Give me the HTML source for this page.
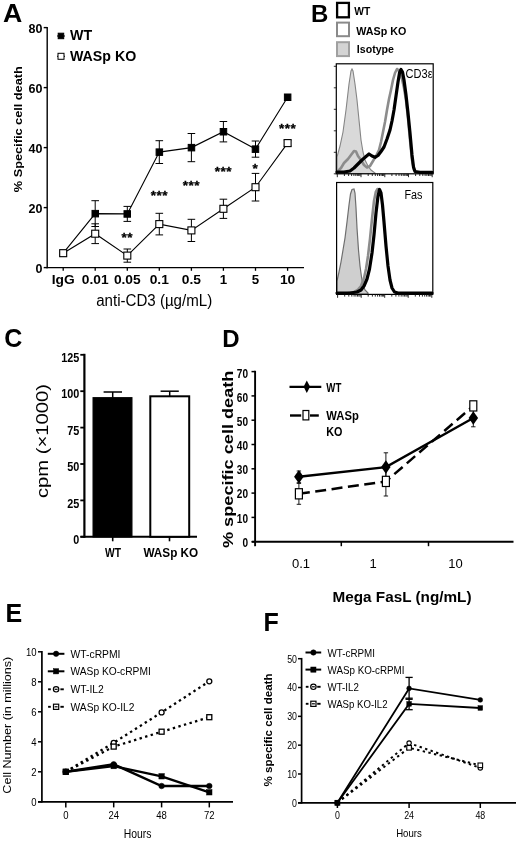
<!DOCTYPE html>
<html lang="en"><head><meta charset="utf-8"><title>Figure</title>
<style>html,body{margin:0;padding:0;background:#fff}svg{display:block}text{font-family:"Liberation Sans",sans-serif}</style>
</head><body>
<svg width="520" height="842" viewBox="0 0 520 842">
<rect width="520" height="842" fill="#fff"/>
<g id="panelA">
<text x="2.9" y="21.7" font-size="25" font-weight="bold" textLength="19.3" lengthAdjust="spacingAndGlyphs">A</text>
<line x1="47.2" y1="27" x2="47.2" y2="268.3" stroke="#000" stroke-width="1.4"/>
<line x1="46.5" y1="267.6" x2="304" y2="267.6" stroke="#000" stroke-width="1.4"/>
<line x1="43.7" y1="267.6" x2="47.2" y2="267.6" stroke="#000" stroke-width="1.4"/>
<text x="42.5" y="272.5" font-size="12.5" font-weight="bold" text-anchor="end">0</text>
<line x1="43.7" y1="207.60000000000002" x2="47.2" y2="207.60000000000002" stroke="#000" stroke-width="1.4"/>
<text x="42.5" y="212.50000000000003" font-size="12.5" font-weight="bold" text-anchor="end">20</text>
<line x1="43.7" y1="147.60000000000002" x2="47.2" y2="147.60000000000002" stroke="#000" stroke-width="1.4"/>
<text x="42.5" y="152.50000000000003" font-size="12.5" font-weight="bold" text-anchor="end">40</text>
<line x1="43.7" y1="87.60000000000002" x2="47.2" y2="87.60000000000002" stroke="#000" stroke-width="1.4"/>
<text x="42.5" y="92.50000000000003" font-size="12.5" font-weight="bold" text-anchor="end">60</text>
<line x1="43.7" y1="27.600000000000023" x2="47.2" y2="27.600000000000023" stroke="#000" stroke-width="1.4"/>
<text x="42.5" y="32.50000000000002" font-size="12.5" font-weight="bold" text-anchor="end">80</text>
<line x1="63.2" y1="267.6" x2="63.2" y2="270.8" stroke="#000" stroke-width="1.3"/>
<text x="63.2" y="284.4" font-size="13.3" font-weight="bold" text-anchor="middle" textLength="23.0" lengthAdjust="spacingAndGlyphs">IgG</text>
<line x1="95.2" y1="267.6" x2="95.2" y2="270.8" stroke="#000" stroke-width="1.3"/>
<text x="95.2" y="284.4" font-size="13.3" font-weight="bold" text-anchor="middle" textLength="26.8" lengthAdjust="spacingAndGlyphs">0.01</text>
<line x1="127.3" y1="267.6" x2="127.3" y2="270.8" stroke="#000" stroke-width="1.3"/>
<text x="127.3" y="284.4" font-size="13.3" font-weight="bold" text-anchor="middle" textLength="26.8" lengthAdjust="spacingAndGlyphs">0.05</text>
<line x1="159.3" y1="267.6" x2="159.3" y2="270.8" stroke="#000" stroke-width="1.3"/>
<text x="159.3" y="284.4" font-size="13.3" font-weight="bold" text-anchor="middle" textLength="19.2" lengthAdjust="spacingAndGlyphs">0.1</text>
<line x1="191.4" y1="267.6" x2="191.4" y2="270.8" stroke="#000" stroke-width="1.3"/>
<text x="191.4" y="284.4" font-size="13.3" font-weight="bold" text-anchor="middle" textLength="19.2" lengthAdjust="spacingAndGlyphs">0.5</text>
<line x1="223.4" y1="267.6" x2="223.4" y2="270.8" stroke="#000" stroke-width="1.3"/>
<text x="223.4" y="284.4" font-size="13.3" font-weight="bold" text-anchor="middle">1</text>
<line x1="255.5" y1="267.6" x2="255.5" y2="270.8" stroke="#000" stroke-width="1.3"/>
<text x="255.5" y="284.4" font-size="13.3" font-weight="bold" text-anchor="middle">5</text>
<line x1="287.6" y1="267.6" x2="287.6" y2="270.8" stroke="#000" stroke-width="1.3"/>
<text x="287.6" y="284.4" font-size="13.3" font-weight="bold" text-anchor="middle" textLength="15.4" lengthAdjust="spacingAndGlyphs">10</text>
<text x="154.2" y="306.2" font-size="16" text-anchor="middle" textLength="116" lengthAdjust="spacingAndGlyphs">anti-CD3 (µg/mL)</text>
<text x="22" y="129.2" font-size="11.5" font-weight="bold" text-anchor="middle" textLength="126" lengthAdjust="spacingAndGlyphs" transform="rotate(-90 22 129.2)">% Specific cell death</text>
<line x1="95.2" y1="200.7" x2="95.2" y2="226.5" stroke="#000" stroke-width="1"/>
<line x1="91.4" y1="200.7" x2="99.0" y2="200.7" stroke="#000" stroke-width="1"/>
<line x1="91.4" y1="226.5" x2="99.0" y2="226.5" stroke="#000" stroke-width="1"/>
<line x1="127.3" y1="206.4" x2="127.3" y2="221.4" stroke="#000" stroke-width="1"/>
<line x1="123.5" y1="206.4" x2="131.1" y2="206.4" stroke="#000" stroke-width="1"/>
<line x1="123.5" y1="221.4" x2="131.1" y2="221.4" stroke="#000" stroke-width="1"/>
<line x1="159.3" y1="140.7" x2="159.3" y2="163.5" stroke="#000" stroke-width="1"/>
<line x1="155.5" y1="140.7" x2="163.10000000000002" y2="140.7" stroke="#000" stroke-width="1"/>
<line x1="155.5" y1="163.5" x2="163.10000000000002" y2="163.5" stroke="#000" stroke-width="1"/>
<line x1="191.4" y1="133.5" x2="191.4" y2="161.7" stroke="#000" stroke-width="1"/>
<line x1="187.6" y1="133.5" x2="195.20000000000002" y2="133.5" stroke="#000" stroke-width="1"/>
<line x1="187.6" y1="161.7" x2="195.20000000000002" y2="161.7" stroke="#000" stroke-width="1"/>
<line x1="223.4" y1="121.5" x2="223.4" y2="141.9" stroke="#000" stroke-width="1"/>
<line x1="219.6" y1="121.5" x2="227.20000000000002" y2="121.5" stroke="#000" stroke-width="1"/>
<line x1="219.6" y1="141.9" x2="227.20000000000002" y2="141.9" stroke="#000" stroke-width="1"/>
<line x1="255.5" y1="141.0" x2="255.5" y2="157.2" stroke="#000" stroke-width="1"/>
<line x1="251.7" y1="141.0" x2="259.3" y2="141.0" stroke="#000" stroke-width="1"/>
<line x1="251.7" y1="157.2" x2="259.3" y2="157.2" stroke="#000" stroke-width="1"/>
<line x1="95.2" y1="223.8" x2="95.2" y2="243.6" stroke="#000" stroke-width="1"/>
<line x1="91.4" y1="223.8" x2="99.0" y2="223.8" stroke="#000" stroke-width="1"/>
<line x1="91.4" y1="243.6" x2="99.0" y2="243.6" stroke="#000" stroke-width="1"/>
<line x1="127.3" y1="249.0" x2="127.3" y2="262.2" stroke="#000" stroke-width="1"/>
<line x1="123.5" y1="249.0" x2="131.1" y2="249.0" stroke="#000" stroke-width="1"/>
<line x1="123.5" y1="262.2" x2="131.1" y2="262.2" stroke="#000" stroke-width="1"/>
<line x1="159.3" y1="213.3" x2="159.3" y2="234.9" stroke="#000" stroke-width="1"/>
<line x1="155.5" y1="213.3" x2="163.10000000000002" y2="213.3" stroke="#000" stroke-width="1"/>
<line x1="155.5" y1="234.9" x2="163.10000000000002" y2="234.9" stroke="#000" stroke-width="1"/>
<line x1="191.4" y1="219.3" x2="191.4" y2="241.5" stroke="#000" stroke-width="1"/>
<line x1="187.6" y1="219.3" x2="195.20000000000002" y2="219.3" stroke="#000" stroke-width="1"/>
<line x1="187.6" y1="241.5" x2="195.20000000000002" y2="241.5" stroke="#000" stroke-width="1"/>
<line x1="223.4" y1="199.2" x2="223.4" y2="218.4" stroke="#000" stroke-width="1"/>
<line x1="219.6" y1="199.2" x2="227.20000000000002" y2="199.2" stroke="#000" stroke-width="1"/>
<line x1="219.6" y1="218.4" x2="227.20000000000002" y2="218.4" stroke="#000" stroke-width="1"/>
<line x1="255.5" y1="173.4" x2="255.5" y2="201.0" stroke="#000" stroke-width="1"/>
<line x1="251.7" y1="173.4" x2="259.3" y2="173.4" stroke="#000" stroke-width="1"/>
<line x1="251.7" y1="201.0" x2="259.3" y2="201.0" stroke="#000" stroke-width="1"/>
<line x1="287.6" y1="140.1" x2="287.6" y2="146.1" stroke="#000" stroke-width="1"/>
<line x1="283.8" y1="140.1" x2="291.40000000000003" y2="140.1" stroke="#000" stroke-width="1"/>
<line x1="283.8" y1="146.1" x2="291.40000000000003" y2="146.1" stroke="#000" stroke-width="1"/>
<polyline points="63.2,253.2 95.2,213.6 127.3,213.9 159.3,152.1 191.4,147.6 223.4,131.7 255.5,149.1 287.6,97.2" fill="none" stroke="#000" stroke-width="1.1"/>
<polyline points="63.2,253.2 95.2,233.7 127.3,255.6 159.3,224.1 191.4,230.4 223.4,208.8 255.5,187.2 287.6,143.1" fill="none" stroke="#000" stroke-width="1.1"/>
<rect x="60.0" y="250.0" width="6.5" height="6.5" fill="#000" stroke="#000" stroke-width="1"/>
<rect x="92.0" y="210.4" width="6.5" height="6.5" fill="#000" stroke="#000" stroke-width="1"/>
<rect x="124.0" y="210.7" width="6.5" height="6.5" fill="#000" stroke="#000" stroke-width="1"/>
<rect x="156.1" y="148.9" width="6.5" height="6.5" fill="#000" stroke="#000" stroke-width="1"/>
<rect x="188.2" y="144.4" width="6.5" height="6.5" fill="#000" stroke="#000" stroke-width="1"/>
<rect x="220.2" y="128.5" width="6.5" height="6.5" fill="#000" stroke="#000" stroke-width="1"/>
<rect x="252.2" y="145.9" width="6.5" height="6.5" fill="#000" stroke="#000" stroke-width="1"/>
<rect x="284.4" y="94.0" width="6.5" height="6.5" fill="#000" stroke="#000" stroke-width="1"/>
<rect x="59.7" y="249.7" width="7.0" height="7.0" fill="#fff" stroke="#000" stroke-width="1.1"/>
<rect x="91.7" y="230.2" width="7.0" height="7.0" fill="#fff" stroke="#000" stroke-width="1.1"/>
<rect x="123.8" y="252.1" width="7.0" height="7.0" fill="#fff" stroke="#000" stroke-width="1.1"/>
<rect x="155.8" y="220.6" width="7.0" height="7.0" fill="#fff" stroke="#000" stroke-width="1.1"/>
<rect x="187.9" y="226.9" width="7.0" height="7.0" fill="#fff" stroke="#000" stroke-width="1.1"/>
<rect x="219.9" y="205.3" width="7.0" height="7.0" fill="#fff" stroke="#000" stroke-width="1.1"/>
<rect x="252.0" y="183.7" width="7.0" height="7.0" fill="#fff" stroke="#000" stroke-width="1.1"/>
<rect x="284.1" y="139.6" width="7.0" height="7.0" fill="#fff" stroke="#000" stroke-width="1.1"/>
<line x1="57" y1="36" x2="65" y2="36" stroke="#000" stroke-width="1"/>
<rect x="58.2" y="33.2" width="5.5" height="5.5" fill="#000" stroke="#000" stroke-width="1"/>
<text x="70" y="40.2" font-size="14.2" font-weight="bold">WT</text>
<line x1="57" y1="56.3" x2="65" y2="56.3" stroke="#000" stroke-width="1"/>
<rect x="58.0" y="53.3" width="6" height="6" fill="#fff" stroke="#000" stroke-width="1"/>
<text x="70" y="61" font-size="14.2" font-weight="bold">WASp KO</text>
<text x="127.3" y="241.7" font-size="13.5" font-weight="bold" text-anchor="middle" stroke="#000" stroke-width="0.3" letter-spacing="0.5">**</text>
<text x="159.3" y="199.7" font-size="13.5" font-weight="bold" text-anchor="middle" stroke="#000" stroke-width="0.3" letter-spacing="0.5">***</text>
<text x="191.4" y="189.7" font-size="13.5" font-weight="bold" text-anchor="middle" stroke="#000" stroke-width="0.3" letter-spacing="0.5">***</text>
<text x="223.4" y="175.7" font-size="13.5" font-weight="bold" text-anchor="middle" stroke="#000" stroke-width="0.3" letter-spacing="0.5">***</text>
<text x="255.5" y="172.7" font-size="13.5" font-weight="bold" text-anchor="middle" stroke="#000" stroke-width="0.3" letter-spacing="0.5">*</text>
<text x="287.6" y="133.0" font-size="13.5" font-weight="bold" text-anchor="middle" stroke="#000" stroke-width="0.3" letter-spacing="0.5">***</text>
</g>
<g id="panelB">
<text x="311" y="22.2" font-size="24" font-weight="bold">B</text>
<rect x="337.1" y="2.9" width="11.8" height="14.4" fill="#fff" stroke="#000" stroke-width="2.3"/>
<rect x="337" y="22.6" width="12" height="13.6" fill="#fff" stroke="#8a8a8a" stroke-width="2"/>
<rect x="337" y="42.2" width="12" height="13.9" fill="#d4d4d4" stroke="#a0a0a0" stroke-width="2"/>
<text x="354.2" y="14.8" font-size="11.2" font-weight="bold" textLength="16" lengthAdjust="spacingAndGlyphs">WT</text>
<text x="356.3" y="35.1" font-size="11.6" font-weight="bold" textLength="50" lengthAdjust="spacingAndGlyphs">WASp KO</text>
<text x="356.8" y="52.8" font-size="11.6" font-weight="bold" textLength="37.2" lengthAdjust="spacingAndGlyphs">Isotype</text>
<polygon points="337,172 337,157 340,146 343,132 346,110 349,84 351,71 352,69 353,71 355,84 357,100 359,120 361,140 363,152 365,160 368,166 371,170 375,173 375,173.5 337,173.5" fill="#d9d9d9" stroke="#858585" stroke-width="1.1"/>
<polyline points="338.0,171.0 341.0,168.0 344.0,163.0 348.0,159.0 351.0,155.0 354.0,151.0 356.0,151.5 358.0,156.0 361.0,160.0 364.0,165.0 367.0,167.5 370.0,166.0 373.0,161.0 376.0,156.0 379.0,150.0 381.0,142.0 383.0,132.0 385.0,122.0 387.0,110.0 389.0,99.0 391.0,90.0 393.0,80.0 395.0,73.0 397.0,69.0 398.5,70.0 400.0,74.0 402.0,79.0 404.0,88.0 406.0,100.0 408.0,118.0 410.0,140.0 412.0,160.0 414.0,170.0" fill="none" stroke="#8c8c8c" stroke-width="2.6" stroke-linejoin="round" stroke-linecap="round"/>
<polyline points="337.0,172.0 344.0,172.0 350.0,171.0 354.0,168.0 358.0,164.0 362.0,160.0 366.0,156.5 369.0,154.0 372.0,156.0 375.0,157.3 378.0,155.5 381.0,151.5 384.0,147.0 387.0,139.0 390.0,130.0 392.0,121.0 394.0,110.0 396.0,96.0 398.0,82.0 399.5,73.0 401.0,69.5 402.5,72.0 404.0,80.0 406.0,95.0 408.0,113.0 410.0,133.0 412.0,155.0 413.5,167.0 415.0,171.5 420.0,172.3 432.0,172.3" fill="none" stroke="#000" stroke-width="3.2" stroke-linejoin="round" stroke-linecap="round"/>
<rect x="336.3" y="63.8" width="96.9" height="110.0" fill="none" stroke="#000" stroke-width="1.2"/>
<line x1="333.8" y1="173.8" x2="336.3" y2="173.8" stroke="#000" stroke-width="0.8"/>
<line x1="333.8" y1="152.3" x2="336.3" y2="152.3" stroke="#000" stroke-width="0.8"/>
<line x1="333.8" y1="130.8" x2="336.3" y2="130.8" stroke="#000" stroke-width="0.8"/>
<line x1="333.8" y1="109.30000000000001" x2="336.3" y2="109.30000000000001" stroke="#000" stroke-width="0.8"/>
<line x1="333.8" y1="87.80000000000001" x2="336.3" y2="87.80000000000001" stroke="#000" stroke-width="0.8"/>
<line x1="333.8" y1="66.30000000000001" x2="336.3" y2="66.30000000000001" stroke="#000" stroke-width="0.8"/>
<line x1="337.3" y1="173.8" x2="337.3" y2="177.20000000000002" stroke="#111" stroke-width="0.9"/>
<line x1="344.4" y1="173.8" x2="344.4" y2="176.0" stroke="#111" stroke-width="0.9"/>
<line x1="348.6" y1="173.8" x2="348.6" y2="176.0" stroke="#111" stroke-width="0.9"/>
<line x1="351.6" y1="173.8" x2="351.6" y2="176.0" stroke="#111" stroke-width="0.9"/>
<line x1="353.9" y1="173.8" x2="353.9" y2="176.0" stroke="#111" stroke-width="0.9"/>
<line x1="355.8" y1="173.8" x2="355.8" y2="176.0" stroke="#111" stroke-width="0.9"/>
<line x1="357.3" y1="173.8" x2="357.3" y2="176.0" stroke="#111" stroke-width="0.9"/>
<line x1="358.7" y1="173.8" x2="358.7" y2="176.0" stroke="#111" stroke-width="0.9"/>
<line x1="359.9" y1="173.8" x2="359.9" y2="176.0" stroke="#111" stroke-width="0.9"/>
<line x1="361.0" y1="173.8" x2="361.0" y2="177.20000000000002" stroke="#111" stroke-width="0.9"/>
<line x1="368.2" y1="173.8" x2="368.2" y2="176.0" stroke="#111" stroke-width="0.9"/>
<line x1="372.3" y1="173.8" x2="372.3" y2="176.0" stroke="#111" stroke-width="0.9"/>
<line x1="375.3" y1="173.8" x2="375.3" y2="176.0" stroke="#111" stroke-width="0.9"/>
<line x1="377.6" y1="173.8" x2="377.6" y2="176.0" stroke="#111" stroke-width="0.9"/>
<line x1="379.5" y1="173.8" x2="379.5" y2="176.0" stroke="#111" stroke-width="0.9"/>
<line x1="381.1" y1="173.8" x2="381.1" y2="176.0" stroke="#111" stroke-width="0.9"/>
<line x1="382.5" y1="173.8" x2="382.5" y2="176.0" stroke="#111" stroke-width="0.9"/>
<line x1="383.7" y1="173.8" x2="383.7" y2="176.0" stroke="#111" stroke-width="0.9"/>
<line x1="384.8" y1="173.8" x2="384.8" y2="177.20000000000002" stroke="#111" stroke-width="0.9"/>
<line x1="391.9" y1="173.8" x2="391.9" y2="176.0" stroke="#111" stroke-width="0.9"/>
<line x1="396.1" y1="173.8" x2="396.1" y2="176.0" stroke="#111" stroke-width="0.9"/>
<line x1="399.0" y1="173.8" x2="399.0" y2="176.0" stroke="#111" stroke-width="0.9"/>
<line x1="401.3" y1="173.8" x2="401.3" y2="176.0" stroke="#111" stroke-width="0.9"/>
<line x1="403.2" y1="173.8" x2="403.2" y2="176.0" stroke="#111" stroke-width="0.9"/>
<line x1="404.8" y1="173.8" x2="404.8" y2="176.0" stroke="#111" stroke-width="0.9"/>
<line x1="406.2" y1="173.8" x2="406.2" y2="176.0" stroke="#111" stroke-width="0.9"/>
<line x1="407.4" y1="173.8" x2="407.4" y2="176.0" stroke="#111" stroke-width="0.9"/>
<line x1="408.5" y1="173.8" x2="408.5" y2="177.20000000000002" stroke="#111" stroke-width="0.9"/>
<line x1="415.6" y1="173.8" x2="415.6" y2="176.0" stroke="#111" stroke-width="0.9"/>
<line x1="419.8" y1="173.8" x2="419.8" y2="176.0" stroke="#111" stroke-width="0.9"/>
<line x1="422.8" y1="173.8" x2="422.8" y2="176.0" stroke="#111" stroke-width="0.9"/>
<line x1="425.1" y1="173.8" x2="425.1" y2="176.0" stroke="#111" stroke-width="0.9"/>
<line x1="426.9" y1="173.8" x2="426.9" y2="176.0" stroke="#111" stroke-width="0.9"/>
<line x1="428.5" y1="173.8" x2="428.5" y2="176.0" stroke="#111" stroke-width="0.9"/>
<line x1="429.9" y1="173.8" x2="429.9" y2="176.0" stroke="#111" stroke-width="0.9"/>
<line x1="431.1" y1="173.8" x2="431.1" y2="176.0" stroke="#111" stroke-width="0.9"/>
<line x1="432.2" y1="173.8" x2="432.2" y2="177.20000000000002" stroke="#111" stroke-width="0.9"/>
<text x="405.6" y="78.3" font-size="12.5" textLength="27" lengthAdjust="spacingAndGlyphs">CD3ε</text>
<polygon points="337,293 337,281 339,272 341,262 343,250 345,238 347,222 349,205 350.5,194 352,189.5 354,189 355,193 356,208 357,228 358.5,250 360,266 361.5,277 363,285 365,290 368,293 368,294 337,294" fill="#cfcfcf" stroke="#6e6e6e" stroke-width="1.2"/>
<polyline points="348.0,293.0 354.0,292.0 358.0,289.5 361.0,286.0 364.0,278.0 366.0,269.0 368.0,256.0 370.0,239.0 372.0,219.0 374.0,201.0 375.8,192.0 377.5,189.0 379.0,190.0" fill="none" stroke="#8c8c8c" stroke-width="2.6" stroke-linejoin="round" stroke-linecap="round"/>
<polyline points="337.0,293.0 350.0,293.0 357.0,292.0 361.0,290.0 364.0,286.0 367.0,279.0 369.5,269.0 372.0,253.0 374.0,235.0 376.0,213.0 378.0,196.0 379.5,189.5 381.0,193.0 382.5,205.0 384.0,222.0 386.0,246.0 388.0,266.0 390.0,280.0 392.0,288.0 394.5,292.0 398.0,293.0 432.0,293.0" fill="none" stroke="#000" stroke-width="3.2" stroke-linejoin="round" stroke-linecap="round"/>
<rect x="336.6" y="182.5" width="96.2" height="111.9" fill="none" stroke="#000" stroke-width="1.2"/>
<line x1="337.6" y1="294.4" x2="337.6" y2="297.79999999999995" stroke="#111" stroke-width="0.9"/>
<line x1="344.7" y1="294.4" x2="344.7" y2="296.59999999999997" stroke="#111" stroke-width="0.9"/>
<line x1="348.8" y1="294.4" x2="348.8" y2="296.59999999999997" stroke="#111" stroke-width="0.9"/>
<line x1="351.8" y1="294.4" x2="351.8" y2="296.59999999999997" stroke="#111" stroke-width="0.9"/>
<line x1="354.1" y1="294.4" x2="354.1" y2="296.59999999999997" stroke="#111" stroke-width="0.9"/>
<line x1="355.9" y1="294.4" x2="355.9" y2="296.59999999999997" stroke="#111" stroke-width="0.9"/>
<line x1="357.5" y1="294.4" x2="357.5" y2="296.59999999999997" stroke="#111" stroke-width="0.9"/>
<line x1="358.9" y1="294.4" x2="358.9" y2="296.59999999999997" stroke="#111" stroke-width="0.9"/>
<line x1="360.1" y1="294.4" x2="360.1" y2="296.59999999999997" stroke="#111" stroke-width="0.9"/>
<line x1="361.2" y1="294.4" x2="361.2" y2="297.79999999999995" stroke="#111" stroke-width="0.9"/>
<line x1="368.2" y1="294.4" x2="368.2" y2="296.59999999999997" stroke="#111" stroke-width="0.9"/>
<line x1="372.4" y1="294.4" x2="372.4" y2="296.59999999999997" stroke="#111" stroke-width="0.9"/>
<line x1="375.3" y1="294.4" x2="375.3" y2="296.59999999999997" stroke="#111" stroke-width="0.9"/>
<line x1="377.6" y1="294.4" x2="377.6" y2="296.59999999999997" stroke="#111" stroke-width="0.9"/>
<line x1="379.5" y1="294.4" x2="379.5" y2="296.59999999999997" stroke="#111" stroke-width="0.9"/>
<line x1="381.1" y1="294.4" x2="381.1" y2="296.59999999999997" stroke="#111" stroke-width="0.9"/>
<line x1="382.4" y1="294.4" x2="382.4" y2="296.59999999999997" stroke="#111" stroke-width="0.9"/>
<line x1="383.6" y1="294.4" x2="383.6" y2="296.59999999999997" stroke="#111" stroke-width="0.9"/>
<line x1="384.7" y1="294.4" x2="384.7" y2="297.79999999999995" stroke="#111" stroke-width="0.9"/>
<line x1="391.8" y1="294.4" x2="391.8" y2="296.59999999999997" stroke="#111" stroke-width="0.9"/>
<line x1="395.9" y1="294.4" x2="395.9" y2="296.59999999999997" stroke="#111" stroke-width="0.9"/>
<line x1="398.9" y1="294.4" x2="398.9" y2="296.59999999999997" stroke="#111" stroke-width="0.9"/>
<line x1="401.2" y1="294.4" x2="401.2" y2="296.59999999999997" stroke="#111" stroke-width="0.9"/>
<line x1="403.0" y1="294.4" x2="403.0" y2="296.59999999999997" stroke="#111" stroke-width="0.9"/>
<line x1="404.6" y1="294.4" x2="404.6" y2="296.59999999999997" stroke="#111" stroke-width="0.9"/>
<line x1="406.0" y1="294.4" x2="406.0" y2="296.59999999999997" stroke="#111" stroke-width="0.9"/>
<line x1="407.2" y1="294.4" x2="407.2" y2="296.59999999999997" stroke="#111" stroke-width="0.9"/>
<line x1="408.2" y1="294.4" x2="408.2" y2="297.79999999999995" stroke="#111" stroke-width="0.9"/>
<line x1="415.3" y1="294.4" x2="415.3" y2="296.59999999999997" stroke="#111" stroke-width="0.9"/>
<line x1="419.5" y1="294.4" x2="419.5" y2="296.59999999999997" stroke="#111" stroke-width="0.9"/>
<line x1="422.4" y1="294.4" x2="422.4" y2="296.59999999999997" stroke="#111" stroke-width="0.9"/>
<line x1="424.7" y1="294.4" x2="424.7" y2="296.59999999999997" stroke="#111" stroke-width="0.9"/>
<line x1="426.6" y1="294.4" x2="426.6" y2="296.59999999999997" stroke="#111" stroke-width="0.9"/>
<line x1="428.2" y1="294.4" x2="428.2" y2="296.59999999999997" stroke="#111" stroke-width="0.9"/>
<line x1="429.5" y1="294.4" x2="429.5" y2="296.59999999999997" stroke="#111" stroke-width="0.9"/>
<line x1="430.7" y1="294.4" x2="430.7" y2="296.59999999999997" stroke="#111" stroke-width="0.9"/>
<line x1="431.8" y1="294.4" x2="431.8" y2="297.79999999999995" stroke="#111" stroke-width="0.9"/>
<text x="404.5" y="198.8" font-size="12.5" textLength="18" lengthAdjust="spacingAndGlyphs">Fas</text>
</g>
<g id="panelC">
<text x="4.2" y="346.7" font-size="25" font-weight="bold">C</text>
<line x1="84.4" y1="353.79999999999995" x2="84.4" y2="537.8" stroke="#000" stroke-width="2.2"/>
<line x1="80.5" y1="536.8" x2="197" y2="536.8" stroke="#000" stroke-width="2"/>
<line x1="80.3" y1="536.8" x2="84.4" y2="536.8" stroke="#000" stroke-width="1.8"/>
<text x="79.3" y="544.0" font-size="12.6" font-weight="bold" text-anchor="end" textLength="6.0" lengthAdjust="spacingAndGlyphs">0</text>
<line x1="80.3" y1="500.4" x2="84.4" y2="500.4" stroke="#000" stroke-width="1.8"/>
<text x="79.3" y="507.59999999999997" font-size="12.6" font-weight="bold" text-anchor="end" textLength="12.1" lengthAdjust="spacingAndGlyphs">25</text>
<line x1="80.3" y1="463.99999999999994" x2="84.4" y2="463.99999999999994" stroke="#000" stroke-width="1.8"/>
<text x="79.3" y="471.19999999999993" font-size="12.6" font-weight="bold" text-anchor="end" textLength="12.1" lengthAdjust="spacingAndGlyphs">50</text>
<line x1="80.3" y1="427.59999999999997" x2="84.4" y2="427.59999999999997" stroke="#000" stroke-width="1.8"/>
<text x="79.3" y="434.79999999999995" font-size="12.6" font-weight="bold" text-anchor="end" textLength="12.1" lengthAdjust="spacingAndGlyphs">75</text>
<line x1="80.3" y1="391.19999999999993" x2="84.4" y2="391.19999999999993" stroke="#000" stroke-width="1.8"/>
<text x="79.3" y="398.3999999999999" font-size="12.6" font-weight="bold" text-anchor="end" textLength="18.1" lengthAdjust="spacingAndGlyphs">100</text>
<line x1="80.3" y1="354.79999999999995" x2="84.4" y2="354.79999999999995" stroke="#000" stroke-width="1.8"/>
<text x="79.3" y="361.99999999999994" font-size="12.6" font-weight="bold" text-anchor="end" textLength="18.1" lengthAdjust="spacingAndGlyphs">125</text>
<rect x="93.2" y="397.8" width="38.6" height="139.0" fill="#000" stroke="#000" stroke-width="1.4"/>
<rect x="150.3" y="396.3" width="38.9" height="140.5" fill="#fff" stroke="#000" stroke-width="2"/>
<line x1="112.7" y1="397.75199999999995" x2="112.7" y2="392" stroke="#000" stroke-width="1.5"/>
<line x1="103.6" y1="392" x2="122" y2="392" stroke="#000" stroke-width="1.5"/>
<line x1="112.7" y1="536.8" x2="112.7" y2="541.3" stroke="#000" stroke-width="1.6"/>
<line x1="169.5" y1="536.8" x2="169.5" y2="541.3" stroke="#000" stroke-width="1.6"/>
<line x1="169.7" y1="396.29599999999994" x2="169.7" y2="391.2" stroke="#000" stroke-width="1.5"/>
<line x1="160.6" y1="391.2" x2="178.8" y2="391.2" stroke="#000" stroke-width="1.5"/>
<text x="113" y="556.6" font-size="13.2" font-weight="bold" text-anchor="middle" textLength="16" lengthAdjust="spacingAndGlyphs">WT</text>
<text x="170.8" y="556.6" font-size="13.2" font-weight="bold" text-anchor="middle" textLength="54.8" lengthAdjust="spacingAndGlyphs">WASp KO</text>
<text x="48.3" y="441" font-size="16.5" text-anchor="middle" textLength="114" lengthAdjust="spacingAndGlyphs" transform="rotate(-90 48.3 441)" font-family='"DejaVu Sans", "Liberation Sans", sans-serif'>cpm (×1000)</text>
</g>
<g id="panelD">
<text x="222.3" y="347.3" font-size="24" font-weight="bold">D</text>
<line x1="255.1" y1="370.8" x2="255.1" y2="546.2" stroke="#000" stroke-width="1.9"/>
<line x1="251.8" y1="541.7" x2="513.5" y2="541.7" stroke="#000" stroke-width="1.9"/>
<line x1="251.5" y1="541.7" x2="255.1" y2="541.7" stroke="#000" stroke-width="1.5"/>
<text x="248" y="546.6" font-size="13" font-weight="bold" text-anchor="end" textLength="5.6" lengthAdjust="spacingAndGlyphs">0</text>
<line x1="251.5" y1="517.4000000000001" x2="255.1" y2="517.4000000000001" stroke="#000" stroke-width="1.5"/>
<text x="248" y="522.53" font-size="13" font-weight="bold" text-anchor="end" textLength="11.2" lengthAdjust="spacingAndGlyphs">10</text>
<line x1="251.5" y1="493.1" x2="255.1" y2="493.1" stroke="#000" stroke-width="1.5"/>
<text x="248" y="498.46" font-size="13" font-weight="bold" text-anchor="end" textLength="11.2" lengthAdjust="spacingAndGlyphs">20</text>
<line x1="251.5" y1="468.80000000000007" x2="255.1" y2="468.80000000000007" stroke="#000" stroke-width="1.5"/>
<text x="248" y="474.38999999999993" font-size="13" font-weight="bold" text-anchor="end" textLength="11.2" lengthAdjust="spacingAndGlyphs">30</text>
<line x1="251.5" y1="444.50000000000006" x2="255.1" y2="444.50000000000006" stroke="#000" stroke-width="1.5"/>
<text x="248" y="450.32" font-size="13" font-weight="bold" text-anchor="end" textLength="11.2" lengthAdjust="spacingAndGlyphs">40</text>
<line x1="251.5" y1="420.20000000000005" x2="255.1" y2="420.20000000000005" stroke="#000" stroke-width="1.5"/>
<text x="248" y="426.24999999999994" font-size="13" font-weight="bold" text-anchor="end" textLength="11.2" lengthAdjust="spacingAndGlyphs">50</text>
<line x1="251.5" y1="395.90000000000003" x2="255.1" y2="395.90000000000003" stroke="#000" stroke-width="1.5"/>
<text x="248" y="402.17999999999995" font-size="13" font-weight="bold" text-anchor="end" textLength="11.2" lengthAdjust="spacingAndGlyphs">60</text>
<line x1="251.5" y1="371.6" x2="255.1" y2="371.6" stroke="#000" stroke-width="1.5"/>
<text x="248" y="378.10999999999996" font-size="13" font-weight="bold" text-anchor="end" textLength="11.2" lengthAdjust="spacingAndGlyphs">70</text>
<line x1="341.3" y1="541.7" x2="341.3" y2="546.2" stroke="#000" stroke-width="1.5"/>
<line x1="428.5" y1="541.7" x2="428.5" y2="546.2" stroke="#000" stroke-width="1.5"/>
<text x="301" y="568" font-size="13" text-anchor="middle">0.1</text>
<text x="373" y="568" font-size="13" text-anchor="middle">1</text>
<text x="455.4" y="568" font-size="13" text-anchor="middle">10</text>
<text x="402" y="601.8" font-size="14.6" font-weight="bold" text-anchor="middle" textLength="139" lengthAdjust="spacingAndGlyphs">Mega FasL (ng/mL)</text>
<text x="232.6" y="459.3" font-size="14.5" font-weight="bold" text-anchor="middle" textLength="177.5" lengthAdjust="spacingAndGlyphs" transform="rotate(-90 232.6 459.3)">% specific cell death</text>
<line x1="298.9" y1="471.0" x2="298.9" y2="482.7" stroke="#000" stroke-width="0.9"/>
<line x1="296.7" y1="471.0" x2="301.09999999999997" y2="471.0" stroke="#000" stroke-width="0.9"/>
<line x1="296.7" y1="482.7" x2="301.09999999999997" y2="482.7" stroke="#000" stroke-width="0.9"/>
<line x1="385.9" y1="452.8" x2="385.9" y2="481.4" stroke="#000" stroke-width="0.9"/>
<line x1="383.7" y1="452.8" x2="388.09999999999997" y2="452.8" stroke="#000" stroke-width="0.9"/>
<line x1="383.7" y1="481.4" x2="388.09999999999997" y2="481.4" stroke="#000" stroke-width="0.9"/>
<line x1="473.3" y1="409.3" x2="473.3" y2="426.8" stroke="#000" stroke-width="0.9"/>
<line x1="471.1" y1="409.3" x2="475.5" y2="409.3" stroke="#000" stroke-width="0.9"/>
<line x1="471.1" y1="426.8" x2="475.5" y2="426.8" stroke="#000" stroke-width="0.9"/>
<line x1="298.9" y1="483.4" x2="298.9" y2="504.3" stroke="#000" stroke-width="0.9"/>
<line x1="296.7" y1="483.4" x2="301.09999999999997" y2="483.4" stroke="#000" stroke-width="0.9"/>
<line x1="296.7" y1="504.3" x2="301.09999999999997" y2="504.3" stroke="#000" stroke-width="0.9"/>
<line x1="385.9" y1="466.9" x2="385.9" y2="496.0" stroke="#000" stroke-width="0.9"/>
<line x1="383.7" y1="466.9" x2="388.09999999999997" y2="466.9" stroke="#000" stroke-width="0.9"/>
<line x1="383.7" y1="496.0" x2="388.09999999999997" y2="496.0" stroke="#000" stroke-width="0.9"/>
<line x1="473.3" y1="402.2" x2="473.3" y2="409.5" stroke="#000" stroke-width="0.9"/>
<line x1="471.1" y1="402.2" x2="475.5" y2="402.2" stroke="#000" stroke-width="0.9"/>
<line x1="471.1" y1="409.5" x2="475.5" y2="409.5" stroke="#000" stroke-width="0.9"/>
<polyline points="298.9,476.8 385.9,467.1 473.3,418.0" fill="none" stroke="#000" stroke-width="2.4"/>
<polyline points="298.9,493.8 385.9,481.4 473.3,405.9" fill="none" stroke="#000" stroke-width="2.5" stroke-dasharray="11 5.5"/>
<polygon points="298.9,470.1 303.6,476.8 298.9,483.6 294.1,476.8" fill="#000"/>
<polygon points="385.9,460.3 390.6,467.1 385.9,473.8 381.1,467.1" fill="#000"/>
<polygon points="473.3,411.3 478.1,418.0 473.3,424.8 468.6,418.0" fill="#000"/>
<rect x="295.4" y="488.7" width="7" height="10.2" fill="#fff" stroke="#000" stroke-width="1.2"/>
<rect x="382.4" y="476.3" width="7" height="10.2" fill="#fff" stroke="#000" stroke-width="1.2"/>
<rect x="469.8" y="400.8" width="7" height="10.2" fill="#fff" stroke="#000" stroke-width="1.2"/>
<line x1="289.5" y1="386.8" x2="321.3" y2="386.8" stroke="#000" stroke-width="2.2"/>
<polygon points="306.8,380.6 310.1,386.8 306.8,393.1 303.6,386.8" fill="#000"/>
<text x="326.3" y="392" font-size="13.3" font-weight="bold" textLength="15" lengthAdjust="spacingAndGlyphs">WT</text>
<line x1="290" y1="415.5" x2="301.2" y2="415.5" stroke="#000" stroke-width="2.4"/>
<line x1="310" y1="415.5" x2="318.8" y2="415.5" stroke="#000" stroke-width="2.4"/>
<rect x="303.0" y="410.5" width="5.8" height="9.4" fill="#fff" stroke="#000" stroke-width="1.2"/>
<text x="326.3" y="420" font-size="13.5" font-weight="bold" textLength="32.5" lengthAdjust="spacingAndGlyphs">WASp</text>
<text x="326.3" y="435.5" font-size="13.5" font-weight="bold" textLength="16.2" lengthAdjust="spacingAndGlyphs">KO</text>
</g>
<g id="panelE">
<text x="5.4" y="622.2" font-size="25" font-weight="bold">E</text>
<line x1="41.9" y1="651.0" x2="41.9" y2="802.5999999999999" stroke="#000" stroke-width="1.7"/>
<line x1="38" y1="801.8" x2="233" y2="801.8" stroke="#000" stroke-width="1.7"/>
<line x1="38" y1="801.8" x2="41.9" y2="801.8" stroke="#000" stroke-width="1.5"/>
<text x="36.6" y="806.0999999999999" font-size="11.5" text-anchor="end" textLength="5.3" lengthAdjust="spacingAndGlyphs">0</text>
<line x1="38" y1="771.8" x2="41.9" y2="771.8" stroke="#000" stroke-width="1.5"/>
<text x="36.6" y="776.0999999999999" font-size="11.5" text-anchor="end" textLength="5.3" lengthAdjust="spacingAndGlyphs">2</text>
<line x1="38" y1="741.8" x2="41.9" y2="741.8" stroke="#000" stroke-width="1.5"/>
<text x="36.6" y="746.0999999999999" font-size="11.5" text-anchor="end" textLength="5.3" lengthAdjust="spacingAndGlyphs">4</text>
<line x1="38" y1="711.8" x2="41.9" y2="711.8" stroke="#000" stroke-width="1.5"/>
<text x="36.6" y="716.0999999999999" font-size="11.5" text-anchor="end" textLength="5.3" lengthAdjust="spacingAndGlyphs">6</text>
<line x1="38" y1="681.8" x2="41.9" y2="681.8" stroke="#000" stroke-width="1.5"/>
<text x="36.6" y="686.0999999999999" font-size="11.5" text-anchor="end" textLength="5.3" lengthAdjust="spacingAndGlyphs">8</text>
<line x1="38" y1="651.8" x2="41.9" y2="651.8" stroke="#000" stroke-width="1.5"/>
<text x="36.6" y="656.0999999999999" font-size="11.5" text-anchor="end" textLength="10.6" lengthAdjust="spacingAndGlyphs">10</text>
<line x1="65.8" y1="801.8" x2="65.8" y2="807.4" stroke="#000" stroke-width="1.5"/>
<text x="65.8" y="818.6" font-size="11.5" text-anchor="middle" textLength="5.3" lengthAdjust="spacingAndGlyphs">0</text>
<line x1="113.7" y1="801.8" x2="113.7" y2="807.4" stroke="#000" stroke-width="1.5"/>
<text x="113.7" y="818.6" font-size="11.5" text-anchor="middle" textLength="10.6" lengthAdjust="spacingAndGlyphs">24</text>
<line x1="161.6" y1="801.8" x2="161.6" y2="807.4" stroke="#000" stroke-width="1.5"/>
<text x="161.6" y="818.6" font-size="11.5" text-anchor="middle" textLength="10.6" lengthAdjust="spacingAndGlyphs">48</text>
<line x1="209.3" y1="801.8" x2="209.3" y2="807.4" stroke="#000" stroke-width="1.5"/>
<text x="209.3" y="818.6" font-size="11.5" text-anchor="middle" textLength="10.6" lengthAdjust="spacingAndGlyphs">72</text>
<text x="137.5" y="837.8" font-size="12" text-anchor="middle" textLength="27.7" lengthAdjust="spacingAndGlyphs">Hours</text>
<text x="11.2" y="725.2" font-size="10" text-anchor="middle" textLength="137" lengthAdjust="spacingAndGlyphs" transform="rotate(-90 11.2 725.2)">Cell Number  (in millions)</text>
<polyline points="65.8,771.8 113.7,742.8 161.6,712.4 209.3,681.3" fill="none" stroke="#000" stroke-width="2.3" stroke-dasharray="2.4 3.4"/>
<polyline points="65.8,771.8 113.7,746.6 161.6,731.8 209.3,717.2" fill="none" stroke="#000" stroke-width="2.3" stroke-dasharray="2.4 3.4"/>
<polyline points="65.8,771.8 113.7,764.3 161.6,786.0 209.3,786.0" fill="none" stroke="#000" stroke-width="2.4"/>
<polyline points="65.8,771.8 113.7,766.1 161.6,776.3 209.3,792.3" fill="none" stroke="#000" stroke-width="2.4"/>
<circle cx="65.8" cy="771.8" r="2.5" fill="#fff" stroke="#000" stroke-width="1.3"/>
<circle cx="113.7" cy="742.8" r="2.5" fill="#fff" stroke="#000" stroke-width="1.3"/>
<circle cx="161.6" cy="712.4" r="2.5" fill="#fff" stroke="#000" stroke-width="1.3"/>
<circle cx="209.3" cy="681.3" r="2.5" fill="#fff" stroke="#000" stroke-width="1.3"/>
<rect x="63.3" y="769.3" width="5" height="5" fill="#fff" stroke="#000" stroke-width="1.3"/>
<rect x="111.2" y="744.1" width="5" height="5" fill="#fff" stroke="#000" stroke-width="1.3"/>
<rect x="159.1" y="729.2" width="5" height="5" fill="#fff" stroke="#000" stroke-width="1.3"/>
<rect x="206.8" y="714.7" width="5" height="5" fill="#fff" stroke="#000" stroke-width="1.3"/>
<circle cx="65.8" cy="771.8" r="2.8" fill="#000" stroke="#000" stroke-width="0.5"/>
<circle cx="113.7" cy="764.3" r="2.8" fill="#000" stroke="#000" stroke-width="0.5"/>
<circle cx="161.6" cy="786.0" r="2.8" fill="#000" stroke="#000" stroke-width="0.5"/>
<circle cx="209.3" cy="786.0" r="2.8" fill="#000" stroke="#000" stroke-width="0.5"/>
<rect x="63.1" y="769.1" width="5.4" height="5.4" fill="#000" stroke="#000" stroke-width="0.5"/>
<rect x="111.0" y="763.4" width="5.4" height="5.4" fill="#000" stroke="#000" stroke-width="0.5"/>
<rect x="158.9" y="773.6" width="5.4" height="5.4" fill="#000" stroke="#000" stroke-width="0.5"/>
<rect x="206.6" y="789.6" width="5.4" height="5.4" fill="#000" stroke="#000" stroke-width="0.5"/>
<line x1="47.8" y1="653.8" x2="64.4" y2="653.8" stroke="#000" stroke-width="2"/>
<circle cx="56.1" cy="653.8" r="2.7" fill="#000" stroke="#000" stroke-width="0.5"/>
<line x1="47.8" y1="671.3" x2="64.4" y2="671.3" stroke="#000" stroke-width="2"/>
<rect x="53.5" y="668.7" width="5.2" height="5.2" fill="#000" stroke="#000" stroke-width="0.5"/>
<line x1="48.099999999999994" y1="689.3" x2="50.8" y2="689.3" stroke="#000" stroke-width="1.9"/>
<line x1="60.400000000000006" y1="689.3" x2="63.800000000000004" y2="689.3" stroke="#000" stroke-width="1.9"/>
<line x1="48.099999999999994" y1="706.8" x2="50.8" y2="706.8" stroke="#000" stroke-width="1.9"/>
<line x1="60.400000000000006" y1="706.8" x2="63.800000000000004" y2="706.8" stroke="#000" stroke-width="1.9"/>
<circle cx="56.1" cy="689.3" r="2.7" fill="#fff" stroke="#000" stroke-width="1.2"/>
<line x1="54.6" y1="689.3" x2="57.6" y2="689.3" stroke="#000" stroke-width="1.2"/>
<rect x="53.5" y="704.2" width="5.2" height="5.2" fill="#fff" stroke="#000" stroke-width="1.2"/>
<line x1="54.6" y1="706.8" x2="57.6" y2="706.8" stroke="#000" stroke-width="1.2"/>
<text x="70.5" y="657.9" font-size="11.8" textLength="50" lengthAdjust="spacingAndGlyphs">WT-cRPMI</text>
<text x="70.5" y="675.4" font-size="11.8" textLength="80.3" lengthAdjust="spacingAndGlyphs">WASp KO-cRPMI</text>
<text x="70.5" y="693.4" font-size="11.8" textLength="33.3" lengthAdjust="spacingAndGlyphs">WT-IL2</text>
<text x="70.5" y="710.9" font-size="11.8" textLength="64" lengthAdjust="spacingAndGlyphs">WASp KO-IL2</text>
</g>
<g id="panelF">
<text x="263.5" y="630.7" font-size="25" font-weight="bold">F</text>
<line x1="301.6" y1="657.9" x2="301.6" y2="803.5999999999999" stroke="#000" stroke-width="1.7"/>
<line x1="298" y1="802.8" x2="516" y2="802.8" stroke="#000" stroke-width="1.7"/>
<line x1="298" y1="802.8" x2="301.6" y2="802.8" stroke="#000" stroke-width="1.5"/>
<text x="297" y="806.5999999999999" font-size="10.5" text-anchor="end" textLength="4.9" lengthAdjust="spacingAndGlyphs">0</text>
<line x1="298" y1="773.9799999999999" x2="301.6" y2="773.9799999999999" stroke="#000" stroke-width="1.5"/>
<text x="297" y="777.7799999999999" font-size="10.5" text-anchor="end" textLength="9.8" lengthAdjust="spacingAndGlyphs">10</text>
<line x1="298" y1="745.16" x2="301.6" y2="745.16" stroke="#000" stroke-width="1.5"/>
<text x="297" y="748.9599999999999" font-size="10.5" text-anchor="end" textLength="9.8" lengthAdjust="spacingAndGlyphs">20</text>
<line x1="298" y1="716.3399999999999" x2="301.6" y2="716.3399999999999" stroke="#000" stroke-width="1.5"/>
<text x="297" y="720.1399999999999" font-size="10.5" text-anchor="end" textLength="9.8" lengthAdjust="spacingAndGlyphs">30</text>
<line x1="298" y1="687.52" x2="301.6" y2="687.52" stroke="#000" stroke-width="1.5"/>
<text x="297" y="691.3199999999999" font-size="10.5" text-anchor="end" textLength="9.8" lengthAdjust="spacingAndGlyphs">40</text>
<line x1="298" y1="658.6999999999999" x2="301.6" y2="658.6999999999999" stroke="#000" stroke-width="1.5"/>
<text x="297" y="662.4999999999999" font-size="10.5" text-anchor="end" textLength="9.8" lengthAdjust="spacingAndGlyphs">50</text>
<line x1="337.4" y1="802.8" x2="337.4" y2="808.0" stroke="#000" stroke-width="1.5"/>
<text x="337.4" y="818.8" font-size="10.5" text-anchor="middle" textLength="4.9" lengthAdjust="spacingAndGlyphs">0</text>
<line x1="409.1" y1="802.8" x2="409.1" y2="808.0" stroke="#000" stroke-width="1.5"/>
<text x="409.1" y="818.8" font-size="10.5" text-anchor="middle" textLength="9.8" lengthAdjust="spacingAndGlyphs">24</text>
<line x1="480.3" y1="802.8" x2="480.3" y2="808.0" stroke="#000" stroke-width="1.5"/>
<text x="480.3" y="818.8" font-size="10.5" text-anchor="middle" textLength="9.8" lengthAdjust="spacingAndGlyphs">48</text>
<text x="409" y="837.3" font-size="11.2" text-anchor="middle" textLength="25.6" lengthAdjust="spacingAndGlyphs">Hours</text>
<text x="271.8" y="730" font-size="10.4" font-weight="bold" text-anchor="middle" textLength="113" lengthAdjust="spacingAndGlyphs" transform="rotate(-90 271.8 730)">% specific cell death</text>
<line x1="409.1" y1="677.4" x2="409.1" y2="699.3" stroke="#000" stroke-width="1.3"/>
<line x1="405.5" y1="677.4" x2="412.70000000000005" y2="677.4" stroke="#000" stroke-width="1.3"/>
<line x1="405.5" y1="699.3" x2="412.70000000000005" y2="699.3" stroke="#000" stroke-width="1.3"/>
<line x1="409.1" y1="698.2" x2="409.1" y2="709.7" stroke="#000" stroke-width="1.3"/>
<line x1="405.5" y1="698.2" x2="412.70000000000005" y2="698.2" stroke="#000" stroke-width="1.3"/>
<line x1="405.5" y1="709.7" x2="412.70000000000005" y2="709.7" stroke="#000" stroke-width="1.3"/>
<polyline points="337.4,802.8 409.1,743.1 480.3,767.9" fill="none" stroke="#000" stroke-width="2" stroke-dasharray="2.4 3.4"/>
<polyline points="337.4,802.8 409.1,747.8 480.3,765.3" fill="none" stroke="#000" stroke-width="2" stroke-dasharray="2.4 3.4"/>
<polyline points="337.4,802.8 409.1,688.4 480.3,699.9" fill="none" stroke="#000" stroke-width="1.8"/>
<polyline points="337.4,802.8 409.1,703.9 480.3,708.0" fill="none" stroke="#000" stroke-width="1.8"/>
<circle cx="337.4" cy="802.8" r="2.2" fill="#fff" stroke="#000" stroke-width="1.1"/>
<circle cx="409.1" cy="743.1" r="2.2" fill="#fff" stroke="#000" stroke-width="1.1"/>
<circle cx="480.3" cy="767.9" r="2.2" fill="#fff" stroke="#000" stroke-width="1.1"/>
<rect x="335.1" y="800.5" width="4.6" height="4.6" fill="#fff" stroke="#000" stroke-width="1.1"/>
<rect x="406.8" y="745.5" width="4.6" height="4.6" fill="#fff" stroke="#000" stroke-width="1.1"/>
<rect x="478.0" y="763.0" width="4.6" height="4.6" fill="#fff" stroke="#000" stroke-width="1.1"/>
<circle cx="337.4" cy="802.8" r="2.4" fill="#000" stroke="#000" stroke-width="0.5"/>
<circle cx="409.1" cy="688.4" r="2.4" fill="#000" stroke="#000" stroke-width="0.5"/>
<circle cx="480.3" cy="699.9" r="2.4" fill="#000" stroke="#000" stroke-width="0.5"/>
<rect x="335.1" y="800.5" width="4.6" height="4.6" fill="#000" stroke="#000" stroke-width="0.5"/>
<rect x="406.8" y="701.6" width="4.6" height="4.6" fill="#000" stroke="#000" stroke-width="0.5"/>
<rect x="478.0" y="705.7" width="4.6" height="4.6" fill="#000" stroke="#000" stroke-width="0.5"/>
<line x1="305.5" y1="652.5" x2="321.2" y2="652.5" stroke="#000" stroke-width="2"/>
<circle cx="313.4" cy="652.5" r="2.7" fill="#000" stroke="#000" stroke-width="0.5"/>
<line x1="305.5" y1="669.6" x2="321.2" y2="669.6" stroke="#000" stroke-width="2"/>
<rect x="310.8" y="667.0" width="5.2" height="5.2" fill="#000" stroke="#000" stroke-width="0.5"/>
<line x1="305.8" y1="686.8" x2="308.5" y2="686.8" stroke="#000" stroke-width="1.9"/>
<line x1="317.2" y1="686.8" x2="320.59999999999997" y2="686.8" stroke="#000" stroke-width="1.9"/>
<line x1="305.8" y1="703.8" x2="308.5" y2="703.8" stroke="#000" stroke-width="1.9"/>
<line x1="317.2" y1="703.8" x2="320.59999999999997" y2="703.8" stroke="#000" stroke-width="1.9"/>
<circle cx="313.4" cy="686.8" r="2.7" fill="#fff" stroke="#000" stroke-width="1.2"/>
<line x1="311.85" y1="686.8" x2="314.85" y2="686.8" stroke="#000" stroke-width="1.2"/>
<rect x="310.8" y="701.2" width="5.2" height="5.2" fill="#fff" stroke="#000" stroke-width="1.2"/>
<line x1="311.85" y1="703.8" x2="314.85" y2="703.8" stroke="#000" stroke-width="1.2"/>
<text x="327.5" y="656.6" font-size="11.4" textLength="47.5" lengthAdjust="spacingAndGlyphs">WT-cRPMI</text>
<text x="327.5" y="673.7" font-size="11.4" textLength="77" lengthAdjust="spacingAndGlyphs">WASp KO-cRPMI</text>
<text x="327.5" y="690.9" font-size="11.4" textLength="31.3" lengthAdjust="spacingAndGlyphs">WT-IL2</text>
<text x="327.5" y="707.9" font-size="11.4" textLength="60" lengthAdjust="spacingAndGlyphs">WASp KO-IL2</text>
</g>
</svg></body></html>
